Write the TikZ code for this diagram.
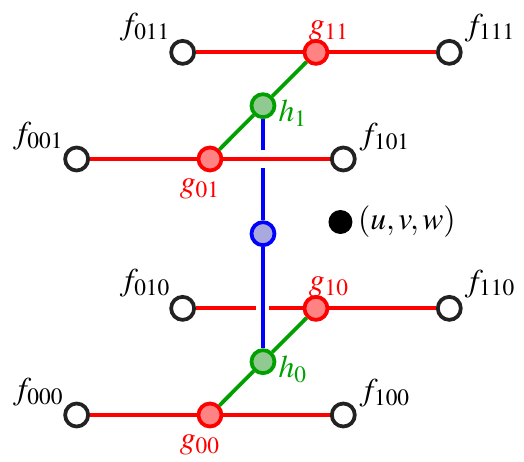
\documentclass[tikz,border=0pt]{standalone}
\usepackage{mathptmx}
\usetikzlibrary{calc}
\definecolor{tRed}{HTML}{FF0000}
\definecolor{tRedFill}{HTML}{FF8383}
\definecolor{tGreen}{HTML}{00A000}
\definecolor{tGreenFill}{HTML}{90CA90}
\definecolor{tBlue}{HTML}{0000FF}
\definecolor{tBlueFill}{HTML}{A9A9DF}
\definecolor{tGrey}{HTML}{222222}
\tikzset{
  vtx/.style     = {circle, line width=0.075cm, minimum size=0.46cm, inner sep=0pt},
  fnode/.style   = {vtx, draw=tGrey, fill=white},
  gnode/.style   = {vtx, draw=tRed, fill=tRedFill},
  hnode/.style   = {vtx, draw=tGreen, fill=tGreenFill},
  mnode/.style   = {vtx, draw=tBlue, fill=tBlueFill},
  xline/.style   = {tRed, line width=0.075cm},
  yline/.style   = {tGreen, line width=0.075cm},
  zline/.style   = {tBlue, line width=0.075cm},
  gap/.style     = {preaction={draw=white, line width=#1}},
  lbl/.style     = {font=\fontsize{18}{22}\selectfont},
  flbl/.style    = {lbl, label distance=-0.06cm},
}

\begin{document}
\begin{tikzpicture}[x={(5.333cm,0cm)}, y={(2.12cm,2.133cm)}, z={(0cm,5.12cm)}]
  \useasboundingbox (-1.533cm,-0.94cm) rectangle (8.947cm,8.3cm);
  % corner values f_{abc}
  \foreach \b/\c/\la/\ra in {0/0/165/10, 0/1/165/10, 1/0/152/25, 1/1/152/25} {
    \node[fnode, label={[flbl, xshift=0.06cm]\la:$f_{0\b\c}$}] (f0\b\c) at (0,\b,\c) {};
    \node[fnode, label={[flbl]\ra:$f_{1\b\c}$}] (f1\b\c) at (1,\b,\c) {};
  }
  % interpolation along x
  \foreach \c in {0,1} {
    \node[gnode, label={[lbl, tRed, xshift=-0.2cm]below:$g_{0\c}$}] (g0\c) at (0.5,0,\c) {};
    \node[gnode, label={[lbl, tRed, xshift=0.26cm, yshift=-0.16cm]above:$g_{1\c}$}] (g1\c) at (0.5,1,\c) {};
    \node[hnode, label={[lbl, tGreen, xshift=-0.08cm, yshift=-0.15cm]right:$h_{\c}$}] (h\c) at (0.5,0.5,\c) {};
  }
  \node[mnode] (mid) at (0.5,0.5,0.5) {};
  \node[circle, fill=black, minimum size=0.48cm, inner sep=0pt,
        label={[lbl, xshift=-0.02cm]right:$(u,v,w)$}] (uvw) at (5.276cm,3.86cm) {};

  \draw[zline] (h1) -- (mid);
  \draw[xline, gap=0.36cm] (f001) -- (g01) -- (f101);
  \foreach \b/\c in {0/0, 1/0, 1/1}
    \draw[xline] (f0\b\c) -- (g\b\c) -- (f1\b\c);
  \draw[zline, gap=0.26cm] (mid) -- (h0);
  \foreach \c in {0,1}
    \draw[yline] (g0\c) -- (h\c) -- (g1\c);
\end{tikzpicture}
\end{document}
